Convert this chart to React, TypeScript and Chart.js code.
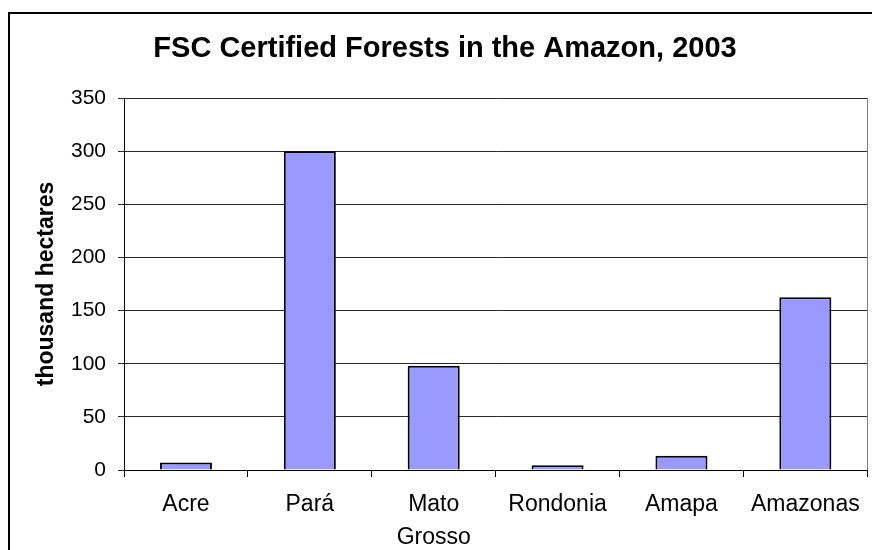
import React, { useEffect, useRef } from "react";
import { Chart, registerables } from "chart.js";

Chart.register(...registerables);

const TITLE = "FSC Certified Forests in the Amazon, 2003";
const Y_TITLE = "thousand hectares";
const categories: (string | string[])[] = ["Acre", "Pará", ["Mato", "Grosso"], "Rondonia", "Amapa", "Amazonas"];
const values: number[] = [7, 300, 98, 4.5, 13.5, 162.5];
const Y_MIN = 0;
const Y_MAX = 350;
const Y_STEP = 50;

const FONT = "'Liberation Sans', Arial, sans-serif";

const framePlugin = {
  id: "frame",
  beforeDatasetsDraw(chart: any) {
    const { ctx, chartArea } = chart;
    ctx.save();
    ctx.strokeStyle = "#808080";
    ctx.lineWidth = 1;
    ctx.beginPath();
    ctx.moveTo(Math.round(chartArea.right) + 0.5, chartArea.top);
    ctx.lineTo(Math.round(chartArea.right) + 0.5, chartArea.bottom);
    ctx.stroke();
    ctx.restore();
  },
  afterDraw(chart: any) {
    const { ctx } = chart;
    ctx.save();
    ctx.strokeStyle = "#000";
    ctx.lineWidth = 2;
    ctx.strokeRect(9, 13, 2000, 2000);
    ctx.restore();
  },
};

export default function App() {
  const ref = useRef<HTMLCanvasElement | null>(null);

  useEffect(() => {
    if (!ref.current) return;
    const chart = new Chart(ref.current, {
      type: "bar",
      data: {
        labels: categories as any,
        datasets: [
          {
            data: values,
            backgroundColor: "#9999FF",
            borderColor: "#000",
            borderWidth: 2,
            categoryPercentage: 1,
            barPercentage: 0.42,
          },
        ],
      },
      options: {
        animation: false,
        responsive: true,
        maintainAspectRatio: false,
        layout: { padding: { left: 22, right: 4, top: 0, bottom: 0 } },
        plugins: {
          legend: { display: false },
          tooltip: { enabled: false },
          title: {
            display: true,
            text: TITLE,
            color: "#000",
            font: { family: FONT, size: 29, weight: "bold", lineHeight: 1.2 },
            padding: { top: 32, bottom: 31.2 },
          },
        },
        scales: {
          x: {
            grid: {
              offset: true,
              drawOnChartArea: false,
              drawTicks: true,
              tickLength: 7,
              color: "#000",
            },
            border: { color: "#000", width: 1 },
            ticks: {
              color: "#000",
              font: { family: FONT, size: 23, lineHeight: 1.4 },
              padding: 12,
              maxRotation: 0,
              autoSkip: false,
            },
            afterFit(scale: any) {
              scale.height = 80;
            },
          },
          y: {
            min: Y_MIN,
            max: Y_MAX,
            grid: {
              color: "#2a2a2a",
              drawTicks: true,
              tickLength: 6,
            },
            border: { color: "#000", width: 1 },
            ticks: {
              stepSize: Y_STEP,
              color: "#000",
              font: { family: FONT, size: 21 },
              padding: 12,
            },
            title: {
              display: true,
              text: Y_TITLE,
              color: "#000",
              font: { family: FONT, size: 23, weight: "bold", lineHeight: 1.2 },
              padding: { top: 11, bottom: 0 },
            },
            afterFit(scale: any) {
              scale.width = 102;
            },
          },
        },
      },
      plugins: [framePlugin],
    });
    return () => chart.destroy();
  }, []);

  return (
    <div style={{ position: "absolute", left: 0, top: 0, width: 872, height: 550, background: "#fff" }}>
      <canvas ref={ref} />
    </div>
  );
}
